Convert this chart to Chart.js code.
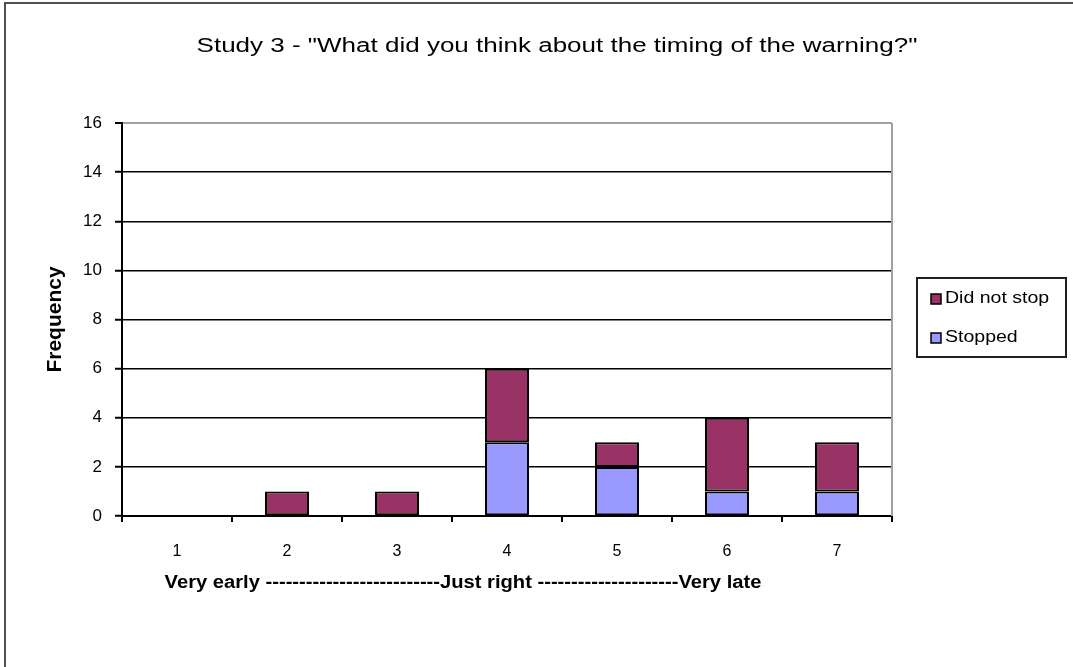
<!DOCTYPE html>
<html>
<head>
<meta charset="utf-8">
<script src="https://cdn.jsdelivr.net/npm/chart.js@4.4.1/dist/chart.umd.min.js"></script>
<style>
  html, body { margin: 0; padding: 0; background: #fff; }
  #wrap { width: 1073px; height: 667px; position: relative; }
</style>
</head>
<body>
<div id="wrap"><canvas id="c"></canvas></div>
<script>
// Responses per rating (1 = very early, 4 = just right, 7 = very late)
const categories = ['1', '2', '3', '4', '5', '6', '7'];
const stopped    = [0, 0, 0, 3, 2, 1, 1];
const didNotStop = [0, 1, 1, 3, 1, 3, 2];
const yMax = 16;
const yStep = 2;

const chartTitle = 'Study 3 - "What did you think about the timing of the warning?"';
const xTitle = 'Very early --------------------------Just right ---------------------Very late';
const yTitle = 'Frequency';

const FONT = '"Liberation Sans", Arial, sans-serif';

function wideText(ctx, text, x, y, font, sx) {
  ctx.save();
  ctx.font = font;
  ctx.fillStyle = '#000';
  ctx.textBaseline = 'alphabetic';
  ctx.textAlign = 'center';
  ctx.translate(x, y);
  ctx.scale(sx, 1);
  ctx.fillText(text, 0, 0);
  ctx.restore();
}

const decor = {
  id: 'decor',
  beforeDraw(chart) {
    const ctx = chart.ctx;
    ctx.save();
    ctx.fillStyle = '#fff';
    ctx.fillRect(0, 0, chart.width, chart.height);
    // outer frame (top and left edges)
    ctx.strokeStyle = '#505050';
    ctx.lineWidth = 2;
    ctx.beginPath();
    ctx.moveTo(chart.width, 3);
    ctx.lineTo(5, 3);
    ctx.lineTo(5, chart.height);
    ctx.stroke();
    ctx.restore();
  },
  afterDraw(chart) {
    const ctx = chart.ctx;
    const a = chart.chartArea;
    ctx.save();
    // plot area right edge
    ctx.strokeStyle = '#a0a0a0';
    ctx.lineWidth = 2;
    ctx.beginPath();
    ctx.moveTo(a.right, a.top);
    ctx.lineTo(a.right, a.bottom);
    ctx.stroke();
    ctx.restore();

    // titles
    wideText(ctx, chartTitle, 557, 52, '20px ' + FONT, 1.3);
    wideText(ctx, xTitle, 463, 588, 'bold 18px ' + FONT, 1.12);
    ctx.save();
    ctx.font = 'bold 21px ' + FONT;
    ctx.fillStyle = '#000';
    ctx.textAlign = 'center';
    ctx.textBaseline = 'alphabetic';
    ctx.translate(61, (a.top + a.bottom) / 2);
    ctx.rotate(-Math.PI / 2);
    ctx.fillText(yTitle, 0, 0);
    ctx.restore();

    // legend box
    const bx = a.right + 25, by = 278, bw = 149, bh = 79;
    ctx.save();
    ctx.strokeStyle = '#202020';
    ctx.lineWidth = 2;
    ctx.strokeRect(bx, by, bw, bh);
    const items = chart.data.datasets.slice().reverse();
    items.forEach((ds, i) => {
      const cy = by + 21 + i * 39;
      ctx.fillStyle = ds.backgroundColor;
      ctx.fillRect(bx + 14, cy - 5, 10, 10);
      ctx.strokeStyle = '#000';
      ctx.lineWidth = 1.5;
      ctx.strokeRect(bx + 14, cy - 5, 10, 10);
      ctx.save();
      ctx.font = '16px ' + FONT;
      ctx.fillStyle = '#000';
      ctx.textAlign = 'left';
      ctx.textBaseline = 'middle';
      ctx.translate(bx + 28, cy);
      ctx.scale(1.22, 1);
      ctx.fillText(ds.label, 0, 0);
      ctx.restore();
    });
    ctx.restore();
  }
};

new Chart(document.getElementById('c'), {
  type: 'bar',
  data: {
    labels: categories,
    datasets: [
      { label: 'Stopped', data: stopped, backgroundColor: '#9999ff',
        borderColor: '#000', borderWidth: 2, borderSkipped: false },
      { label: 'Did not stop', data: didNotStop, backgroundColor: '#993366',
        borderColor: '#000', borderWidth: 2, borderSkipped: false }
    ]
  },
  options: {
    responsive: true,
    maintainAspectRatio: false,
    animation: false,
    devicePixelRatio: 1,
    layout: { padding: { top: 123, right: 181, left: 0, bottom: 0 } },
    datasets: { bar: { categoryPercentage: 1, barPercentage: 0.4 } },
    plugins: { legend: { display: false }, title: { display: false }, tooltip: { enabled: false } },
    scales: {
      x: {
        stacked: true,
        grid: { offset: true, drawOnChartArea: false, drawTicks: true, tickLength: 6, color: '#000', lineWidth: 2 },
        border: { color: '#000', width: 2 },
        ticks: { color: '#000', font: { family: FONT, size: 16 }, padding: 20 },
        afterFit(scale) { scale.height = 151; }
      },
      y: {
        stacked: true,
        min: 0, max: yMax,
        grid: {
          color: ctx => (ctx.tick && ctx.tick.value === yMax) ? '#a0a0a0' : '#000',
          lineWidth: ctx => (ctx.tick && ctx.tick.value === yMax) ? 2 : 1.5,
          tickColor: '#000', tickWidth: 2, tickLength: 7
        },
        border: { color: '#000', width: 2 },
        ticks: { stepSize: yStep, color: '#000', font: { family: FONT, size: 17 }, padding: 13 },
        afterFit(scale) { scale.width = 122; }
      }
    }
  },
  plugins: [decor]
});
</script>
</body>
</html>
